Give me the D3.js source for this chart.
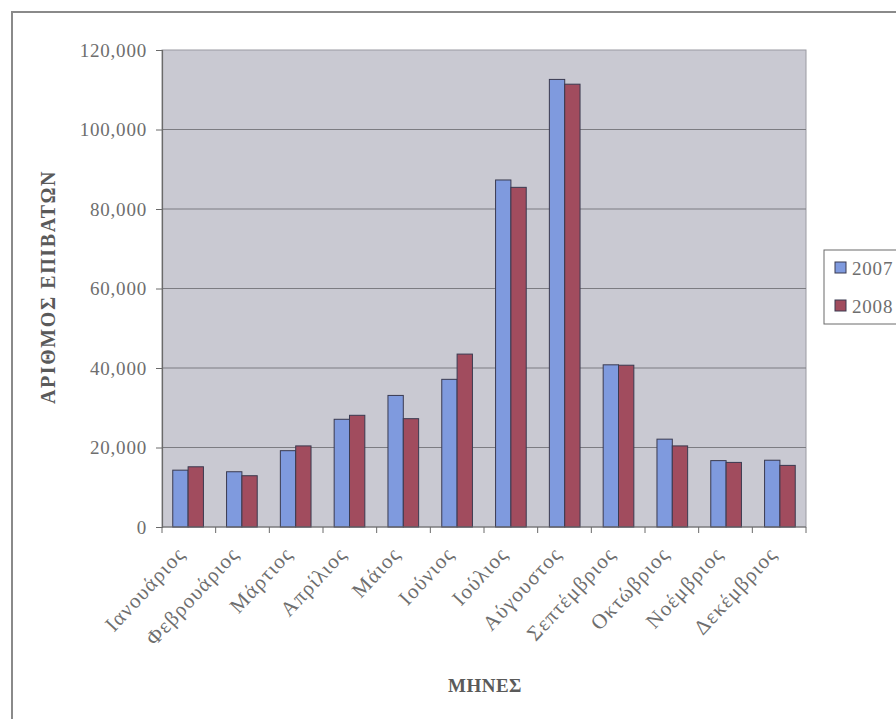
<!DOCTYPE html>
<html>
<head>
<meta charset="utf-8">
<script src="https://cdn.jsdelivr.net/npm/d3@7/dist/d3.min.js"></script>
<style>
  html, body { margin: 0; padding: 0; background: #ffffff; }
  svg { display: block; }
  svg text { font-family: "Liberation Serif", "DejaVu Serif", serif; }
</style>
</head>
<body>
<svg id="chart" width="896" height="719"></svg>
<script>
// Monthly passenger counts, two years side by side
const months = ["Ιανουάριος", "Φεβρουάριος", "Μάρτιος", "Απρίλιος", "Μάιος", "Ιούνιος",
                "Ιούλιος", "Αύγουστος", "Σεπτέμβριος", "Οκτώβριος", "Νοέμβριος", "Δεκέμβριος"];
const years = ["2007", "2008"];
const values2007 = [14300, 13900, 19200, 27100, 33100, 37150, 87300, 112600, 40800, 22100, 16700, 16800];
const values2008 = [15150, 12900, 20400, 28100, 27250, 43500, 85450, 111400, 40700, 20400, 16250, 15500];
const yTicks = [0, 20000, 40000, 60000, 80000, 100000, 120000];
const xTitle = "ΜΗΝΕΣ";
const yTitle = "ΑΡΙΘΜΟΣ ΕΠΙΒΑΤΩΝ";

const serif = "Liberation Serif, DejaVu Serif, serif";
const seriesColors = { "2007": "#7f9ade", "2008": "#a14c5e" };
const seriesValues = { "2007": values2007, "2008": values2008 };

const svg = d3.select("#chart");

// outer chart frame
svg.append("rect")
  .attr("x", 12).attr("y", 12)
  .attr("width", 900).attr("height", 715)
  .attr("fill", "#ffffff")
  .attr("stroke", "#8a8a8a").attr("stroke-width", 2);

const plot = { left: 162, top: 50, right: 806, bottom: 527 };

const x = d3.scaleBand()
  .domain(months)
  .range([plot.left, plot.right])
  .paddingInner(0.43)
  .paddingOuter(0.2);

const xSub = d3.scaleBand()
  .domain(years)
  .range([0, x.bandwidth()]);

const y = d3.scaleLinear()
  .domain([0, 120000])
  .range([plot.bottom, plot.top]);

// plot background
svg.append("rect")
  .attr("x", plot.left).attr("y", plot.top)
  .attr("width", plot.right - plot.left)
  .attr("height", plot.bottom - plot.top)
  .attr("fill", "#c9c9d2")
  .attr("stroke", "#9a9aa2").attr("stroke-width", 1);

// horizontal gridlines
svg.append("g")
  .selectAll("line")
  .data(yTicks.filter(d => d > 0 && d < 120000))
  .join("line")
  .attr("x1", plot.left).attr("x2", plot.right)
  .attr("y1", d => y(d)).attr("y2", d => y(d))
  .attr("stroke", "#7c7c82").attr("stroke-width", 1.2);

// bars
const groups = svg.append("g")
  .selectAll("g")
  .data(months)
  .join("g")
  .attr("transform", d => `translate(${x(d)},0)`);

groups.selectAll("rect")
  .data((m, i) => years.map(yr => ({ year: yr, value: seriesValues[yr][i] })))
  .join("rect")
  .attr("x", d => xSub(d.year))
  .attr("y", d => y(d.value))
  .attr("width", xSub.bandwidth())
  .attr("height", d => y(0) - y(d.value))
  .attr("fill", d => seriesColors[d.year])
  .attr("stroke", "#3a3a50").attr("stroke-width", 1);

// y axis
const yAxis = d3.axisLeft(y)
  .tickValues(yTicks)
  .tickSize(6)
  .tickPadding(9)
  .tickFormat(d3.format(","));

const gy = svg.append("g")
  .attr("transform", `translate(${plot.left},0)`)
  .call(yAxis)
  .attr("font-family", serif);
gy.select(".domain").attr("stroke", "#6a6a6a").attr("stroke-width", 1.2);
gy.selectAll(".tick line").attr("stroke", "#6a6a6a");
gy.selectAll(".tick text")
  .attr("fill", "#6e6e6e")
  .style("font-size", "19px")
  .style("letter-spacing", "0.8px");

// x axis: ticks sit between categories
const gx = svg.append("g")
  .attr("transform", `translate(0,${plot.bottom})`)
  .attr("font-family", serif);
gx.append("line")
  .attr("x1", plot.left).attr("x2", plot.right)
  .attr("stroke", "#6a6a6a").attr("stroke-width", 1.2);
const boundaries = d3.range(months.length + 1).map(i => plot.left + i * (plot.right - plot.left) / months.length);
gx.selectAll("line.tick")
  .data(boundaries)
  .join("line")
  .attr("class", "tick")
  .attr("x1", d => d).attr("x2", d => d)
  .attr("y1", 0).attr("y2", 6)
  .attr("stroke", "#6a6a6a");

gx.selectAll("text")
  .data(months)
  .join("text")
  .attr("transform", d => `translate(${x(d) + x.bandwidth() / 2 - 7},${23}) rotate(-47)`)
  .attr("text-anchor", "end")
  .attr("dy", "0.35em")
  .attr("fill", "#6e6e6e")
  .style("font-size", "21px")
  .style("letter-spacing", "1.2px")
  .text(d => d);

// axis titles
svg.append("text")
  .attr("x", 485).attr("y", 692)
  .attr("text-anchor", "middle")
  .attr("fill", "#5a5a5a")
  .style("font-size", "19px")
  .style("font-weight", "bold")
  .style("letter-spacing", "0.5px")
  .text(xTitle);

svg.append("text")
  .attr("transform", "translate(55,287) rotate(-90)")
  .attr("text-anchor", "middle")
  .attr("fill", "#5a5a5a")
  .style("font-size", "20px")
  .style("font-weight", "bold")
  .style("letter-spacing", "1.6px")
  .text(yTitle);

// legend
const legend = svg.append("g").attr("font-family", serif);
legend.append("rect")
  .attr("x", 824).attr("y", 250)
  .attr("width", 90).attr("height", 74)
  .attr("fill", "#ffffff")
  .attr("stroke", "#6a6a6a").attr("stroke-width", 1);

const items = legend.selectAll("g.item")
  .data(years)
  .join("g")
  .attr("class", "item")
  .attr("transform", (d, i) => `translate(835,${268 + i * 38})`);
items.append("rect")
  .attr("x", 0).attr("y", -6)
  .attr("width", 11).attr("height", 11)
  .attr("fill", d => seriesColors[d])
  .attr("stroke", "#3a3a50").attr("stroke-width", 1);
items.append("text")
  .attr("x", 17).attr("y", 0)
  .attr("dy", "0.35em")
  .attr("fill", "#6e6e6e")
  .style("font-size", "19px")
  .style("letter-spacing", "0.8px")
  .text(d => d);
</script>
</body>
</html>
